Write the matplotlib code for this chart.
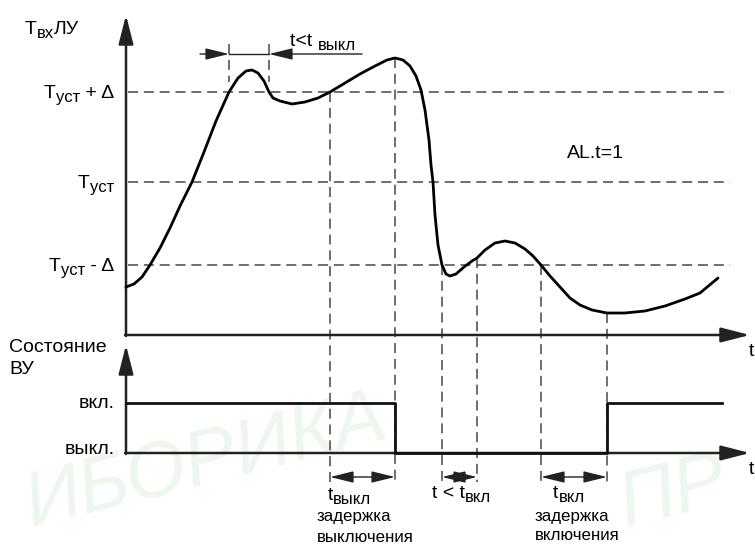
import matplotlib
matplotlib.use('Agg')
import matplotlib.pyplot as plt

plt.rcParams['font.family'] = ['Liberation Sans', 'DejaVu Sans']

# input temperature curve (x = time, y = level) (pixel units)
curve_t = [126, 134, 142, 150, 160, 170, 180, 192, 204, 216, 229, 238, 246, 252,
           258, 264, 269, 273, 280, 292, 305, 318, 330, 345, 360, 375, 387, 395,
           403, 410, 416, 421, 425, 429, 431, 433, 435, 438, 442, 446, 450, 456,
           464, 472, 477, 485, 495, 505, 515, 525, 533, 541, 550, 560, 570, 580,
           592, 607, 625, 645, 665, 685, 700, 718]
curve_T = [287, 284, 277, 265, 248, 228, 206, 182, 152, 121, 92, 78, 71, 70,
           73, 81, 92, 98, 101, 104, 102, 98, 92, 83, 74, 66, 60, 58,
           60, 66, 76, 90, 110, 140, 165, 182, 215, 245, 265, 274, 276, 274,
           267, 261, 258, 250, 243, 241, 243, 249, 256, 265, 276, 287, 298, 305,
           310, 313, 313, 311, 306, 299, 293, 278]

# threshold levels: (main, subscript, tail)
level_labels = [('T', 'уст', ' + Δ'), ('T', 'уст', ''), ('T', 'уст', ' - Δ')]
level_y = [92, 182, 265]

# event times and where the marker lines start
event_t = [330, 395, 442, 477, 541, 607]
event_top = [92, 58, 265, 258, 265, 313]

# output state (on/off) as a step line
state_t = [126, 395, 395, 607, 607, 722]
state_y = [403, 403, 453, 453, 403, 403]

AX_X = 126
TOP_BASE, TOP_TIP = 335, 15
BOT_BASE, BOT_TIP = 453, 345
X_TIP = 750
DASH_C = '#555555'
FS = 14
FS_SUB = 12
FS_SMALL = 12.2

fig = plt.figure(figsize=(7.55, 5.46), dpi=100)
ax = fig.add_axes([0, 0, 1, 1])
ax.set_xlim(0, 755)
ax.set_ylim(546, 0)
ax.axis('off')
renderer = fig.canvas.get_renderer()

# faint watermark
ax.text(18, 543, 'ИБОРИКА', fontsize=56, color='#eef7ee', rotation=14,
        ha='left', va='bottom', style='italic', zorder=0)
ax.text(612, 543, 'ПР', fontsize=56, color='#eef7ee', rotation=14,
        ha='left', va='bottom', style='italic', zorder=0)


def width_of(s, size):
    t = ax.text(0, 0, s, fontsize=size)
    w = t.get_window_extent(renderer).width
    t.remove()
    return w


def sub_label(x, y, parts, ha='left'):
    # parts: list of (text, size, baseline shift); y is the main baseline
    widths = [width_of(s, sz) if s else 0 for s, sz, _ in parts]
    if ha == 'right':
        x = x - sum(widths)
    for (s, sz, dy), w in zip(parts, widths):
        if s:
            ax.text(x, y + dy, s, fontsize=sz, ha='left', va='baseline')
        x += w


def arrow(x0, y0, x1, y1):
    ax.annotate('', xy=(x1, y1), xytext=(x0, y0),
                arrowprops=dict(arrowstyle='-|>,head_length=1.1,head_width=0.28',
                                lw=1.8, color='#222222', mutation_scale=16,
                                shrinkA=0, shrinkB=0))


def small_arrow(x0, x1, y, style='-|>'):
    ax.annotate('', xy=(x1, y), xytext=(x0, y),
                arrowprops=dict(arrowstyle=style + ',head_length=0.9,head_width=0.22',
                                lw=1.0, color='#222222', mutation_scale=16,
                                shrinkA=0, shrinkB=0))


# axes
arrow(AX_X, TOP_BASE + 1, AX_X, TOP_TIP)
arrow(AX_X - 1, TOP_BASE, X_TIP, TOP_BASE)
arrow(AX_X, BOT_BASE + 1, AX_X, BOT_TIP)
arrow(AX_X - 1, BOT_BASE, X_TIP, BOT_BASE)

# dashed levels
for (m, s, tail), y in zip(level_labels, level_y):
    ax.plot([AX_X + 2, 730], [y, y], color=DASH_C, lw=1.2, dashes=(6, 3.5))
    sub_label(114, y + 6, [(m, FS, 0), (s, FS_SUB, 4), (tail, FS, 0)], ha='right')

# dashed event markers
for t, top in zip(event_t, event_top):
    ax.plot([t, t], [top, 482], color=DASH_C, lw=1.2, dashes=(6, 3.5))

# small markers above first peak
for t in [229, 269]:
    ax.plot([t, t], [44, 82], color=DASH_C, lw=1.2, dashes=(6, 3.5))
ax.plot([229, 269], [54, 54], color='#222222', lw=1.0)
small_arrow(200, 229, 54)
small_arrow(362, 269, 54)
sub_label(290, 46, [('t<t ', FS, 0), ('выкл', FS_SUB, 4)])

# curve
ax.plot(curve_t, curve_T, color='black', lw=2.0, solid_capstyle='round',
        solid_joinstyle='round', zorder=5)

# state line
ax.plot(state_t, state_y, color='#111111', lw=2.0, zorder=5)

# bottom dimension arrows
small_arrow(330, 395, 477, '<|-|>')
small_arrow(442, 477, 477, '<|-|>')
small_arrow(541, 607, 477, '<|-|>')

# texts
sub_label(25, 34, [('T', FS, 0), ('вх', FS_SUB, 4), ('ЛУ', FS, 0)])
ax.text(567, 153, 'AL.t=1', fontsize=FS, ha='left', va='center')
ax.text(9, 348, 'Состояние', fontsize=FS, ha='left', va='center')
ax.text(9, 369, 'ВУ', fontsize=FS, ha='left', va='center')
ax.text(115, 403, 'вкл.', fontsize=FS, ha='right', va='center')
ax.text(115, 450, 'выкл.', fontsize=FS, ha='right', va='center')
ax.text(749, 352, 't', fontsize=FS, ha='left', va='center')
ax.text(749, 470, 't', fontsize=FS, ha='left', va='center')

sub_label(328, 500, [('t', FS, 0), ('выкл', FS_SUB, 4)])
ax.text(317, 517, 'задержка', fontsize=FS_SMALL, ha='left', va='center')
ax.text(317, 537, 'выключения', fontsize=FS_SMALL, ha='left', va='center')

sub_label(432, 498, [('t < t', FS, 0), ('вкл', FS_SUB, 4)])

sub_label(553, 498, [('t', FS, 0), ('вкл', FS_SUB, 4)])
ax.text(535, 516, 'задержка', fontsize=FS_SMALL, ha='left', va='center')
ax.text(535, 536, 'включения', fontsize=FS_SMALL, ha='left', va='center')

fig.savefig('out.png', dpi=100)
